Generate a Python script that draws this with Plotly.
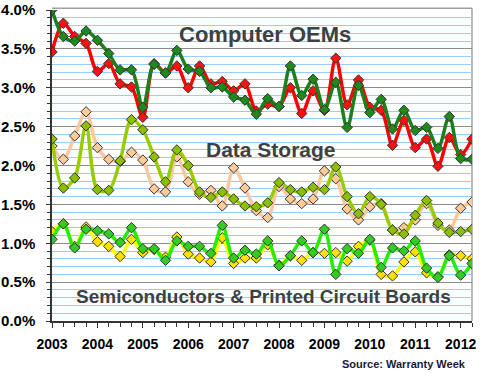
import plotly.graph_objects as go

years = list(range(2003, 2013))
quarters = [(y, q) for y in range(2003, 2013) for q in (1, 2, 3, 4)][:38]
x_pos = [y + (q - 1) / 4 for y, q in quarters]

computer_claims = [3.46, 3.83, 3.66, 3.57, 3.21, 3.31, 3.05, 3.01, 2.62, 3.31, 3.19, 3.28, 3.00, 3.28, 3.05, 3.08,
                   2.96, 3.05, 2.70, 2.79, 2.76, 3.00, 2.67, 2.96, 2.71, 3.38, 2.78, 3.10, 2.75, 2.71, 2.26, 2.58,
                   2.23, 2.34, 1.99, 2.36, 2.14, 2.34]
computer_accruals = [4.00, 3.66, 3.60, 3.73, 3.61, 3.44, 3.23, 3.23, 2.75, 3.30, 3.19, 3.48, 3.24, 3.21, 3.00, 3.01,
                     2.88, 2.84, 2.66, 2.86, 2.76, 3.28, 2.90, 3.11, 2.72, 3.07, 2.49, 3.03, 2.68, 2.85, 2.47, 2.71,
                     2.45, 2.49, 2.22, 2.63, 2.09, 2.08]
storage_claims = [2.25, 2.08, 2.38, 2.69, 2.23, 2.08, 2.05, 2.17, 2.07, 1.70, 1.66, 2.11, 1.79, 1.63, 1.68, 1.48,
                  1.97, 1.71, 1.42, 1.33, 1.73, 1.57, 1.51, 1.57, 1.93, 1.83, 1.44, 1.30, 1.47, 1.51, 1.17, 1.20,
                  1.30, 1.51, 1.23, 1.17, 1.45, 1.53]
storage_accruals = [2.34, 1.71, 1.84, 2.51, 1.69, 1.68, 2.06, 2.59, 2.46, 2.11, 1.79, 2.20, 2.00, 1.66, 1.59, 1.66,
                    1.57, 1.48, 1.47, 1.52, 1.78, 1.69, 1.66, 1.72, 1.69, 1.98, 1.60, 1.38, 1.60, 1.50, 1.17, 1.12,
                    1.36, 1.55, 1.26, 1.14, 1.15, 1.18]
semi_claims = [1.15, 1.25, 0.96, 1.21, 1.02, 0.96, 0.83, 1.05, 0.88, 0.92, 0.82, 1.08, 0.86, 0.81, 0.76, 1.07,
               0.74, 0.81, 0.81, 0.98, 0.72, 0.84, 0.78, 0.88, 0.87, 0.88, 0.77, 0.96, 1.04, 0.60, 0.58, 0.76,
               0.89, 0.62, 0.57, 0.85, 0.84, 0.80]
semi_accruals = [1.05, 1.25, 0.94, 1.18, 1.16, 1.12, 1.01, 1.20, 0.93, 0.93, 0.78, 1.03, 0.96, 0.96, 0.87, 1.23,
                 0.81, 0.91, 0.86, 1.03, 0.71, 0.84, 1.03, 0.88, 1.18, 0.60, 0.93, 0.87, 1.05, 0.69, 0.94, 0.90,
                 1.03, 0.68, 0.56, 0.84, 0.59, 0.74]

y_ticks = [0, 0.5, 1.0, 1.5, 2.0, 2.5, 3.0, 3.5, 4.0]
y_labels = ["0.0%", "0.5%", "1.0%", "1.5%", "2.0%", "2.5%", "3.0%", "3.5%", "4.0%"]
year_labels = [str(y) for y in years]

series = [
    ("Data Storage claims", storage_claims, "#FBC79E", "#FFCC99"),
    ("Data Storage accruals", storage_accruals, "#99CC00", "#8CBF00"),
    ("Semiconductor claims", semi_claims, "#FFFF00", "#FFE000"),
    ("Semiconductor accruals", semi_accruals, "#22EE00", "#33CC22"),
    ("Computer OEM claims", computer_claims, "#FF0000", "#FF1010"),
    ("Computer OEM accruals", computer_accruals, "#1B7F1B", "#1E8A1E"),
]

fig = go.Figure()
for name, vals, lc, mc in series:
    fig.add_trace(go.Scatter(
        x=x_pos, y=vals, name=name, mode="lines+markers",
        line=dict(color=lc, width=3.5, shape="spline", smoothing=0.9),
        marker=dict(symbol="diamond", size=8, color=mc, line=dict(color="#333333", width=1)),
    ))

font_main = "Liberation Sans, Arial, sans-serif"

W, H = 480, 373
ML, MR, MT, MB = 52, 8, 10, 52
plot_w = W - ML - MR
plot_h = H - MT - MB


def px_x(px):
    return (px - ML) / plot_w


def px_y(py):
    return (H - MB - py) / plot_h


fig.update_layout(
    width=W, height=H,
    margin=dict(l=ML, r=MR, t=MT, b=MB),
    paper_bgcolor="white", plot_bgcolor="white",
    showlegend=False,
    font=dict(family=font_main),
    xaxis=dict(
        range=[2003, 2012.25],
        tickvals=years, ticktext=year_labels,
        tickfont=dict(size=14, color="black", family=font_main, weight="bold"),
        ticks="outside", ticklen=5, tickcolor="#333333",
        minor=dict(dtick=0.25, tick0=2003, ticks="outside", ticklen=4, tickcolor="#333333", showgrid=False),
        showgrid=False, zeroline=False,
        showline=True, linecolor="#333333", linewidth=1.5,
        ticklabelstandoff=4, automargin=False,
    ),
    yaxis=dict(
        range=[0, 4.0],
        tickvals=y_ticks, ticktext=y_labels,
        tickfont=dict(size=15, color="black", family=font_main, weight="bold"),
        ticks="outside", ticklen=4, tickcolor="#333333",
        showgrid=True, gridcolor="#8C8C8C", gridwidth=1,
        minor=dict(dtick=0.1, tick0=0, ticks="outside", ticklen=3, tickcolor="#333333",
                   showgrid=True, gridcolor="#99CCFF", gridwidth=1),
        zeroline=False,
        showline=True, linecolor="#333333", linewidth=1.5,
        ticklabelstandoff=8, automargin=False,
    ),
    shapes=[
        dict(type="line", xref="paper", yref="paper", x0=0, x1=1, y0=1.006, y1=1.006,
             line=dict(color="#A0A0A0", width=1.5), layer="below"),
        dict(type="line", xref="paper", yref="paper", x0=1, x1=1, y0=0, y1=1.006,
             line=dict(color="#A0A0A0", width=1.5), layer="below"),
    ],
    annotations=[
        dict(text="Computer OEMs", x=px_x(265), y=px_y(35), xref="paper", yref="paper",
             xanchor="center", yanchor="middle",
             showarrow=False, font=dict(size=22, color="#404040", family=font_main, weight="bold")),
        dict(text="Data Storage", x=px_x(271), y=px_y(149), xref="paper", yref="paper",
             xanchor="center", yanchor="middle",
             showarrow=False, font=dict(size=21, color="#404040", family=font_main, weight="bold")),
        dict(text="Semiconductors &amp; Printed Circuit Boards", x=px_x(263), y=px_y(296),
             xref="paper", yref="paper", xanchor="center", yanchor="middle",
             showarrow=False, font=dict(size=19, color="#404040", family=font_main, weight="bold")),
        dict(text="Source: Warranty Week", x=px_x(468), y=px_y(364), xref="paper", yref="paper",
             xanchor="right", yanchor="middle", showarrow=False,
             font=dict(size=11, color="#1A1A3A", family=font_main, weight="bold")),
    ],
)

fig.write_html("out.html", config={"displayModeBar": False},
               post_script="document.body.style.margin='0px';")
